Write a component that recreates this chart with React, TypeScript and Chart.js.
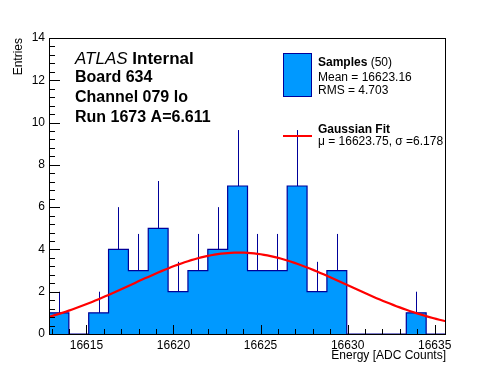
import React, { useEffect, useRef } from "react";
import { Chart, registerables } from "chart.js";
Chart.register(...registerables);

// ---- data ----
const binLow = 16612.85;
const binWidth = 1.14;
const counts = [1, 0, 1, 4, 3, 5, 2, 3, 4, 7, 3, 3, 7, 2, 3, 0, 0, 0, 1, 0];
const xMin = 16612.85;
const xMax = 16635.65;
const xTickValues = [16615, 16620, 16625, 16630, 16635];
const yMin = 0;
const yMax = 14;
const yStep = 2;
const fitMu = 16623.75;
const fitSigma = 6.178;
const fitAmp = 3.85;
const fitSamples = 120;
const infoLines = ["Board 634", "Channel 079 lo", "Run 1673 A=6.611"];
const legendSamples = { name: "Samples", n: "(50)", mean: "Mean = 16623.16", rms: "RMS = 4.703" };
const legendFit = { name: "Gaussian Fit", params: "\u03bc = 16623.75, \u03c3 =6.178" };
const xTitle = "Energy [ADC Counts]";
const yTitle = "Entries";

const FONT = "'Liberation Sans', Arial, Helvetica, sans-serif";
const FILL = "#0099ff";
const LINE = "#000099";

export default function App() {
  const ref = useRef<HTMLCanvasElement | null>(null);

  useEffect(() => {
    const canvas = ref.current;
    if (!canvas) return;

    const histPts = counts.map((c, i) => ({ x: binLow + i * binWidth, y: c }));
    histPts.push({ x: binLow + counts.length * binWidth, y: counts[counts.length - 1] });

    const fitPts: { x: number; y: number }[] = [];
    for (let i = 0; i <= fitSamples; i++) {
      const x = xMin + (i * (xMax - xMin)) / fitSamples;
      const d = (x - fitMu) / fitSigma;
      fitPts.push({ x, y: fitAmp * Math.exp(-0.5 * d * d) });
    }

    const decor = {
      id: "decor",
      beforeDatasetsDraw(chart: any) {
        const { ctx, scales } = chart;
        const xs = scales.x, ys = scales.y;
        ctx.save();
        ctx.strokeStyle = LINE;
        ctx.lineWidth = 1;
        counts.forEach((c, i) => {
          if (c <= 0) return;
          const e = Math.sqrt(c);
          const px = Math.round(xs.getPixelForValue(binLow + (i + 0.5) * binWidth)) + 0.5;
          ctx.beginPath();
          ctx.moveTo(px, ys.getPixelForValue(c - e));
          ctx.lineTo(px, ys.getPixelForValue(c + e));
          ctx.stroke();
        });
        ctx.restore();
      },
      afterDraw(chart: any) {
        const { ctx, chartArea: a, scales } = chart;
        const xs = scales.x, ys = scales.y;
        ctx.save();
        // frame
        ctx.strokeStyle = "#000";
        ctx.lineWidth = 1;
        ctx.strokeRect(a.left + 0.5, a.top + 0.5, a.right - a.left - 1, a.bottom - a.top);
        // y ticks
        ctx.beginPath();
        for (let k = 0; k <= (yMax - yMin) / (yStep / 5) + 0.001; k++) {
          const v = yMin + k * (yStep / 5);
          const py = Math.round(ys.getPixelForValue(v)) + 0.5;
          const len = k % 5 === 0 ? 11 : 6;
          ctx.moveTo(a.left, py);
          ctx.lineTo(a.left + len, py);
        }
        // x ticks
        for (let v = Math.ceil(xMin); v <= xMax; v++) {
          const px = Math.round(xs.getPixelForValue(v)) + 0.5;
          const len = v % 5 === 0 ? 9 : 5;
          ctx.moveTo(px, a.bottom);
          ctx.lineTo(px, a.bottom - len);
        }
        ctx.stroke();

        ctx.fillStyle = "#000";
        // axis titles
        ctx.font = `12px ${FONT}`;
        ctx.textAlign = "right";
        ctx.textBaseline = "middle";
        ctx.fillText(xTitle, a.right, 356);
        ctx.save();
        ctx.translate(19, a.top);
        ctx.rotate(-Math.PI / 2);
        ctx.textAlign = "right";
        ctx.fillText(yTitle, 0, 0);
        ctx.restore();

        // ATLAS label
        ctx.textAlign = "left";
        ctx.textBaseline = "alphabetic";
        ctx.font = `italic 17px ${FONT}`;
        ctx.fillText("ATLAS", 75, 64);
        const w = ctx.measureText("ATLAS ").width;
        ctx.font = `bold 17px ${FONT}`;
        ctx.fillText("Internal", 75 + w, 64);
        ctx.font = `bold 16px ${FONT}`;
        infoLines.forEach((t, i) => ctx.fillText(t, 75, 82 + i * 19.8));

        // legend
        ctx.fillStyle = FILL;
        ctx.fillRect(283.5, 53.5, 28, 43);
        ctx.strokeStyle = LINE;
        ctx.strokeRect(283.5, 53.5, 28, 43);
        ctx.fillStyle = "#000";
        ctx.font = `bold 12px ${FONT}`;
        ctx.fillText(legendSamples.name, 318, 66);
        const sw = ctx.measureText(legendSamples.name + " ").width;
        ctx.font = `12px ${FONT}`;
        ctx.fillText(legendSamples.n, 318 + sw, 66);
        ctx.fillText(legendSamples.mean, 318, 81);
        ctx.fillText(legendSamples.rms, 318, 94);
        ctx.font = `bold 12px ${FONT}`;
        ctx.fillText(legendFit.name, 318, 133);
        ctx.font = `12px ${FONT}`;
        ctx.fillText(legendFit.params, 318, 145);
        ctx.strokeStyle = "#ff0000";
        ctx.lineWidth = 2;
        ctx.beginPath();
        ctx.moveTo(283, 136);
        ctx.lineTo(312, 136);
        ctx.stroke();
        ctx.restore();
      },
    };

    const chart = new Chart(canvas, {
      type: "line",
      data: {
        datasets: [
          {
            label: "Gaussian Fit",
            data: fitPts,
            borderColor: "#ff0000",
            borderWidth: 2.2,
            pointRadius: 0,
            fill: false,
            tension: 0,
            order: 0,
          },
          {
            label: "Samples",
            data: histPts,
            stepped: "before",
            borderColor: LINE,
            borderWidth: 1.2,
            backgroundColor: FILL,
            fill: "origin",
            pointRadius: 0,
            order: 1,
          },
        ],
      },
      options: {
        responsive: false,
        animation: false,
        devicePixelRatio: 1,
        layout: { padding: { top: 38, right: 50, left: 0, bottom: 0 } },
        plugins: { legend: { display: false }, tooltip: { enabled: false }, title: { display: false } },
        scales: {
          x: {
            type: "linear",
            min: xMin,
            max: xMax,
            afterFit: (s: any) => { s.height = 38; },
            afterBuildTicks: (s: any) => { s.ticks = xTickValues.map((v) => ({ value: v })); },
            grid: { display: false, drawTicks: false },
            border: { display: false },
            ticks: {
              color: "#000",
              font: { family: FONT, size: 12 },
              padding: 4,
              maxRotation: 0,
              autoSkip: false,
              callback: (v: any) => String(v),
            },
          },
          y: {
            min: yMin,
            max: yMax,
            afterFit: (s: any) => { s.width = 49; },
            grid: { display: false, drawTicks: false },
            border: { display: false },
            ticks: {
              stepSize: yStep,
              color: "#000",
              font: { family: FONT, size: 12 },
              padding: 4,
            },
          },
        },
      },
      plugins: [decor],
    });
    return () => chart.destroy();
  }, []);

  return (
    <div style={{ position: "fixed", left: 0, top: 0, width: 496, height: 372, background: "#fff" }}>
      <canvas ref={ref} width={496} height={372} style={{ width: 496, height: 372 }} />
    </div>
  );
}
